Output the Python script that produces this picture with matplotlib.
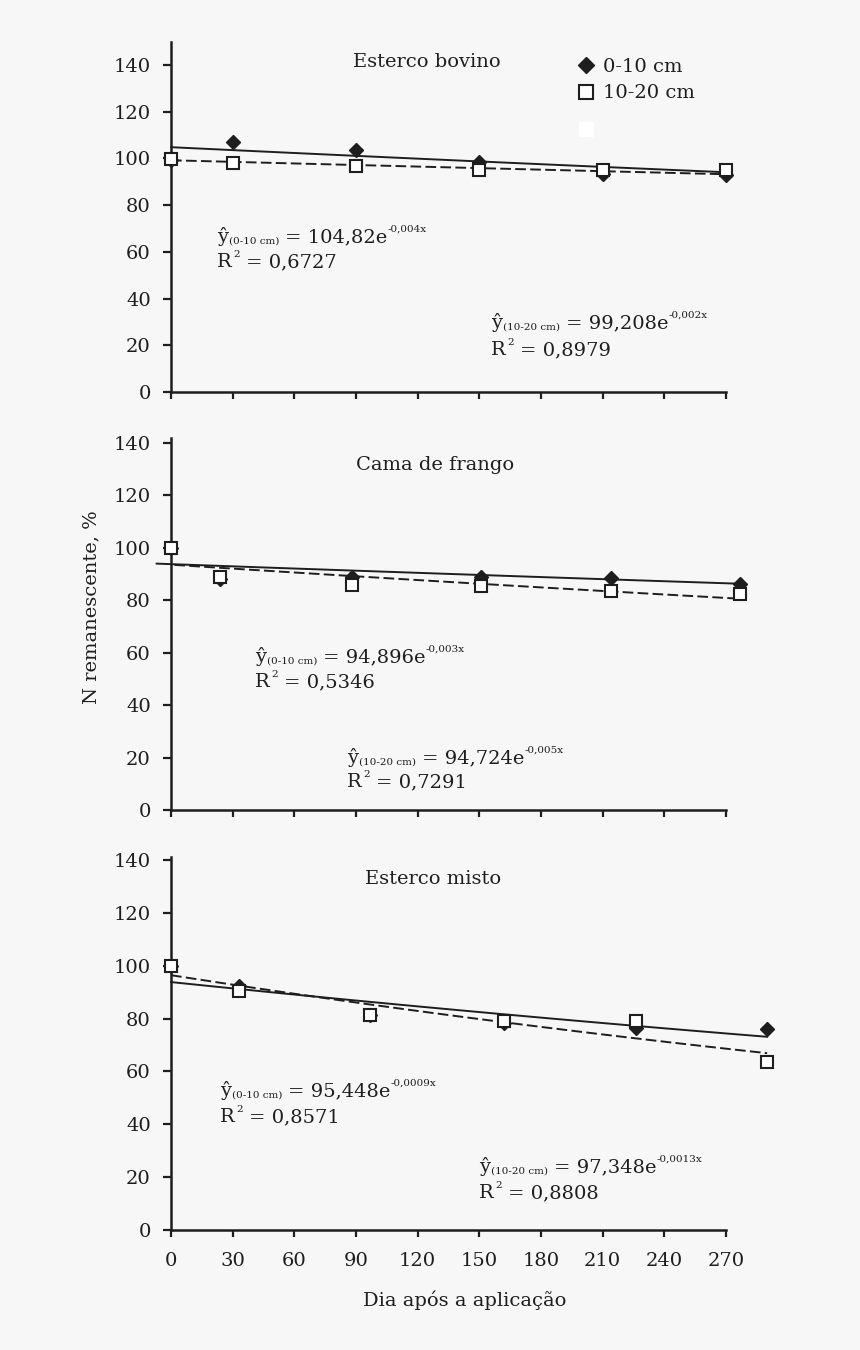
import numpy as np
import matplotlib
matplotlib.use("Agg")
import matplotlib.pyplot as plt
from matplotlib.lines import Line2D

plt.rcParams['font.family'] = ['DejaVu Serif']

# Esterco bovino
bov_x = [0, 30, 90, 150, 210, 270]
bov_0_10 = [99.5, 107.2, 103.6, 98.6, 93.2, 92.8]
bov_10_20 = [99.6, 97.9, 96.6, 95.1, 95.0, 95.1]

# Cama de frango
fra_x = [0, 24, 88, 151, 214, 277]
fra_0_10 = [100.0, 88.3, 88.9, 88.9, 88.5, 86.4]
fra_10_20 = [100.0, 88.9, 85.9, 85.3, 83.4, 82.3]

# Esterco misto
mis_x = [0, 33, 97, 162, 226, 290]
mis_0_10 = [100.0, 92.2, 81.3, 78.5, 76.3, 75.9]
mis_10_20 = [99.8, 90.5, 81.3, 79.0, 79.0, 63.4]

# fitted curves as drawn: a * exp(-k x)
fit_a_0_10 = [104.8, 93.8, 93.8]
fit_k_0_10 = [0.0004, 0.0003, 0.00086]
fit_a_10_20 = [99.2, 93.6, 96.4]
fit_k_10_20 = [0.00023, 0.00054, 0.00126]
fit_x0 = [0, -7, 0]

titles = ['Esterco bovino', 'Cama de frango', 'Esterco misto']
coef_0_10 = ['104,82', '94,896', '95,448']
exp_0_10 = ['-0,004x', '-0,003x', '-0,0009x']
r2_0_10 = ['0,6727', '0,5346', '0,8571']
coef_10_20 = ['99,208', '94,724', '97,348']
exp_10_20 = ['-0,002x', '-0,005x', '-0,0013x']
r2_10_20 = ['0,8979', '0,7291', '0,8808']

bg = '#f7f7f7'
ink = '#1e1e1e'
fs = 14
small = 7.5

fig = plt.figure(figsize=(8.6, 13.5), dpi=100, facecolor=bg)
renderer = fig.canvas.get_renderer()

W, H = 860.0, 1350.0
left = 171 / W
width = 555 / W
# (bottom px, top px, ymax)
boxes = [(392, 41.6, 150), (810, 437.8, 142), (1230, 857.3, 141)]

# text placement in pixels: (x, baseline of equation, baseline of R2)
title_pos = [(124.5, 141.3), (128.4, 131.6), (127.5, 132.8)]
eq1_px = [(217, 242, 267), (255, 662, 687), (220, 1096, 1122)]
eq2_px = [(491, 328, 355), (347, 763, 787), (479, 1172, 1198)]


def rich(x, y, parts):
    # parts: (text, size, raise_px, gap_px) drawn one after another on a baseline
    for s, size, dy, gap in parts:
        x += gap
        t = fig.text(x / W, 1 - (y - dy) / H, s, fontsize=size, va='baseline', ha='left', color=ink)
        x = t.get_window_extent(renderer).x1


def equation(x, y, yr, depth, coef, ex, r2):
    rich(x, y, [('ŷ', fs, 0, 0), ('(%s cm)' % depth, small, -2, 1),
                ('= %se' % coef, fs, 0, 6), (ex, small, 10, 0)])
    rich(x, yr, [('R', fs, 0, 0), ('2', small, 10, 1.5), ('= %s' % r2, fs, 0, 6)])


xs = [bov_x, fra_x, mis_x]
ys1 = [bov_0_10, fra_0_10, mis_0_10]
ys2 = [bov_10_20, fra_10_20, mis_10_20]

for i in range(3):
    b, t, ymax = boxes[i]
    ax = fig.add_axes([left, 1 - b / H, width, (b - t) / H])
    ax.set_facecolor(bg)
    ax.set_xlim(0, 270)
    ax.set_ylim(0, ymax)
    for s in ['top', 'right']:
        ax.spines[s].set_visible(False)
    for s in ['left', 'bottom']:
        ax.spines[s].set_linewidth(1.8)
        ax.spines[s].set_color(ink)
    ax.set_xticks(np.arange(0, 271, 30))
    ax.set_yticks(np.arange(0, 141, 20))
    ax.tick_params(axis='x', direction='out', length=5, width=1.6, colors=ink, labelsize=fs, pad=11)
    ax.tick_params(axis='y', direction='out', length=6, width=1.6, colors=ink, labelsize=fs, pad=8.5)
    if i < 2:
        ax.set_xticklabels([])

    x = np.array(xs[i])
    xf = np.linspace(fit_x0[i], x[-1], 100)
    ax.plot(xf, fit_a_0_10[i] * np.exp(-fit_k_0_10[i] * xf), color=ink, lw=1.4,
            clip_on=False, zorder=2)
    xd = xf[xf >= 0]
    ax.plot(xd, fit_a_10_20[i] * np.exp(-fit_k_10_20[i] * xd), color=ink,
            lw=1.4, ls=(0, (5.5, 2.2)), clip_on=False, zorder=2)
    ax.plot(x, ys1[i], 'D', ms=7.5, color=ink, clip_on=False, zorder=3)
    ax.plot(x, ys2[i], 's', ms=9, mfc='white', mec=ink, mew=1.5, clip_on=False, zorder=4)

    ax.text(title_pos[i][0], title_pos[i][1], titles[i], ha='center', va='center', fontsize=fs, color=ink)
    equation(eq1_px[i][0], eq1_px[i][1], eq1_px[i][2], '0-10', coef_0_10[i], exp_0_10[i], r2_0_10[i])
    equation(eq2_px[i][0], eq2_px[i][1], eq2_px[i][2], '10-20', coef_10_20[i], exp_10_20[i], r2_10_20[i])

    if i == 0:
        handles = [Line2D([], [], ls='none', marker='D', ms=8.5, color=ink),
                   Line2D([], [], ls='none', marker='s', ms=9.5, mfc='white', mec=ink, mew=1.5)]
        leg = ax.legend(handles, ['0-10 cm', '10-20 cm'], loc='upper left',
                        bbox_to_anchor=(0.7171, 0.982), frameon=False, fontsize=fs,
                        handlelength=0.8, handletextpad=0.45, borderpad=0, labelspacing=0.45)
        for txt in leg.get_texts():
            txt.set_color(ink)
        ax.add_artist(leg)
        blank = [Line2D([], [], ls='none', marker='s', ms=9.5, mfc='white', mec='white')]
        ax.legend(blank, [''], loc='center left', bbox_to_anchor=(0.7171, 0.745),
                  frameon=False, fontsize=fs, handlelength=0.8, borderpad=0)

fig.text(91.7 / W, 1 - 607 / H, 'N remanescente, %', rotation=90, ha='center', va='center',
         fontsize=fs, color=ink)
fig.text(465 / W, 1 - 1300 / H, 'Dia após a aplicação', ha='center', va='center', fontsize=fs, color=ink)

fig.savefig('out.png', dpi=100, facecolor=bg)
